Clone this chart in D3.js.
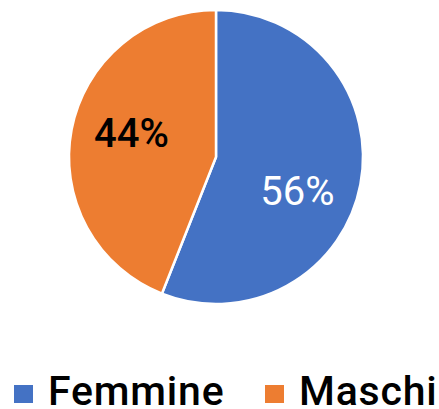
<!DOCTYPE html>
<html>
<head>
<meta charset="utf-8">
<script src="https://cdn.jsdelivr.net/npm/d3@7"></script>
<style>
  body { margin: 0; background: #fff; }
  svg { display: block; font-family: Roboto, "Noto Sans", sans-serif; }
</style>
</head>
<body>
<svg width="439" height="409"></svg>
<script>
// data
var categories = ["Femmine", "Maschi"];
var values = [56, 44];
var colors = ["#4472C4", "#ED7D31"];
var labelColors = ["#ffffff", "#000000"];

var svg = d3.select("svg");
var cx = 216, cy = 157, r = 147;

var pie = d3.pie().sort(null).value(function(d) { return d; });
var arcs = pie(values);

var arc = d3.arc().innerRadius(0).outerRadius(r);
var labelArc = d3.arc().innerRadius(88).outerRadius(88);

var g = svg.append("g")
    .attr("transform", "translate(" + cx + "," + cy + ")");

g.selectAll("path")
    .data(arcs)
  .enter().append("path")
    .attr("d", arc)
    .attr("fill", function(d, i) { return colors[i]; })
    .attr("stroke", "#fff")
    .attr("stroke-width", 2.5)
    .attr("stroke-linejoin", "round");

// nudge labels a little like excel's best fit
var nudge = [[-5, 17], [2, -8]];
g.selectAll("text.lbl")
    .data(arcs)
  .enter().append("text")
    .attr("class", "lbl")
    .attr("x", function(d, i) { return labelArc.centroid(d)[0] + nudge[i][0]; })
    .attr("y", function(d, i) { return labelArc.centroid(d)[1] + nudge[i][1]; })
    .attr("dy", "0.355em")
    .attr("text-anchor", "middle")
    .attr("font-size", 40)
    .attr("font-weight", function(d, i) { return i ? 500 : 400; })
    .attr("fill", function(d, i) { return labelColors[i]; })
    .text(function(d) { return d.data + "%"; });

// legend
var legendX = [14, 265];
var legend = svg.selectAll("g.leg")
    .data(categories)
  .enter().append("g")
    .attr("class", "leg")
    .attr("transform", function(d, i) { return "translate(" + legendX[i] + ",385)"; });

legend.append("rect")
    .attr("width", 19)
    .attr("height", 18)
    .attr("fill", function(d, i) { return colors[i]; });

legend.append("text")
    .attr("x", 34)
    .attr("y", 20)
    .attr("font-size", 41)
    .attr("font-weight", 500)
    .attr("letter-spacing", 0.8)
    .attr("fill", "#000")
    .text(function(d) { return d; });
</script>
</body>
</html>
